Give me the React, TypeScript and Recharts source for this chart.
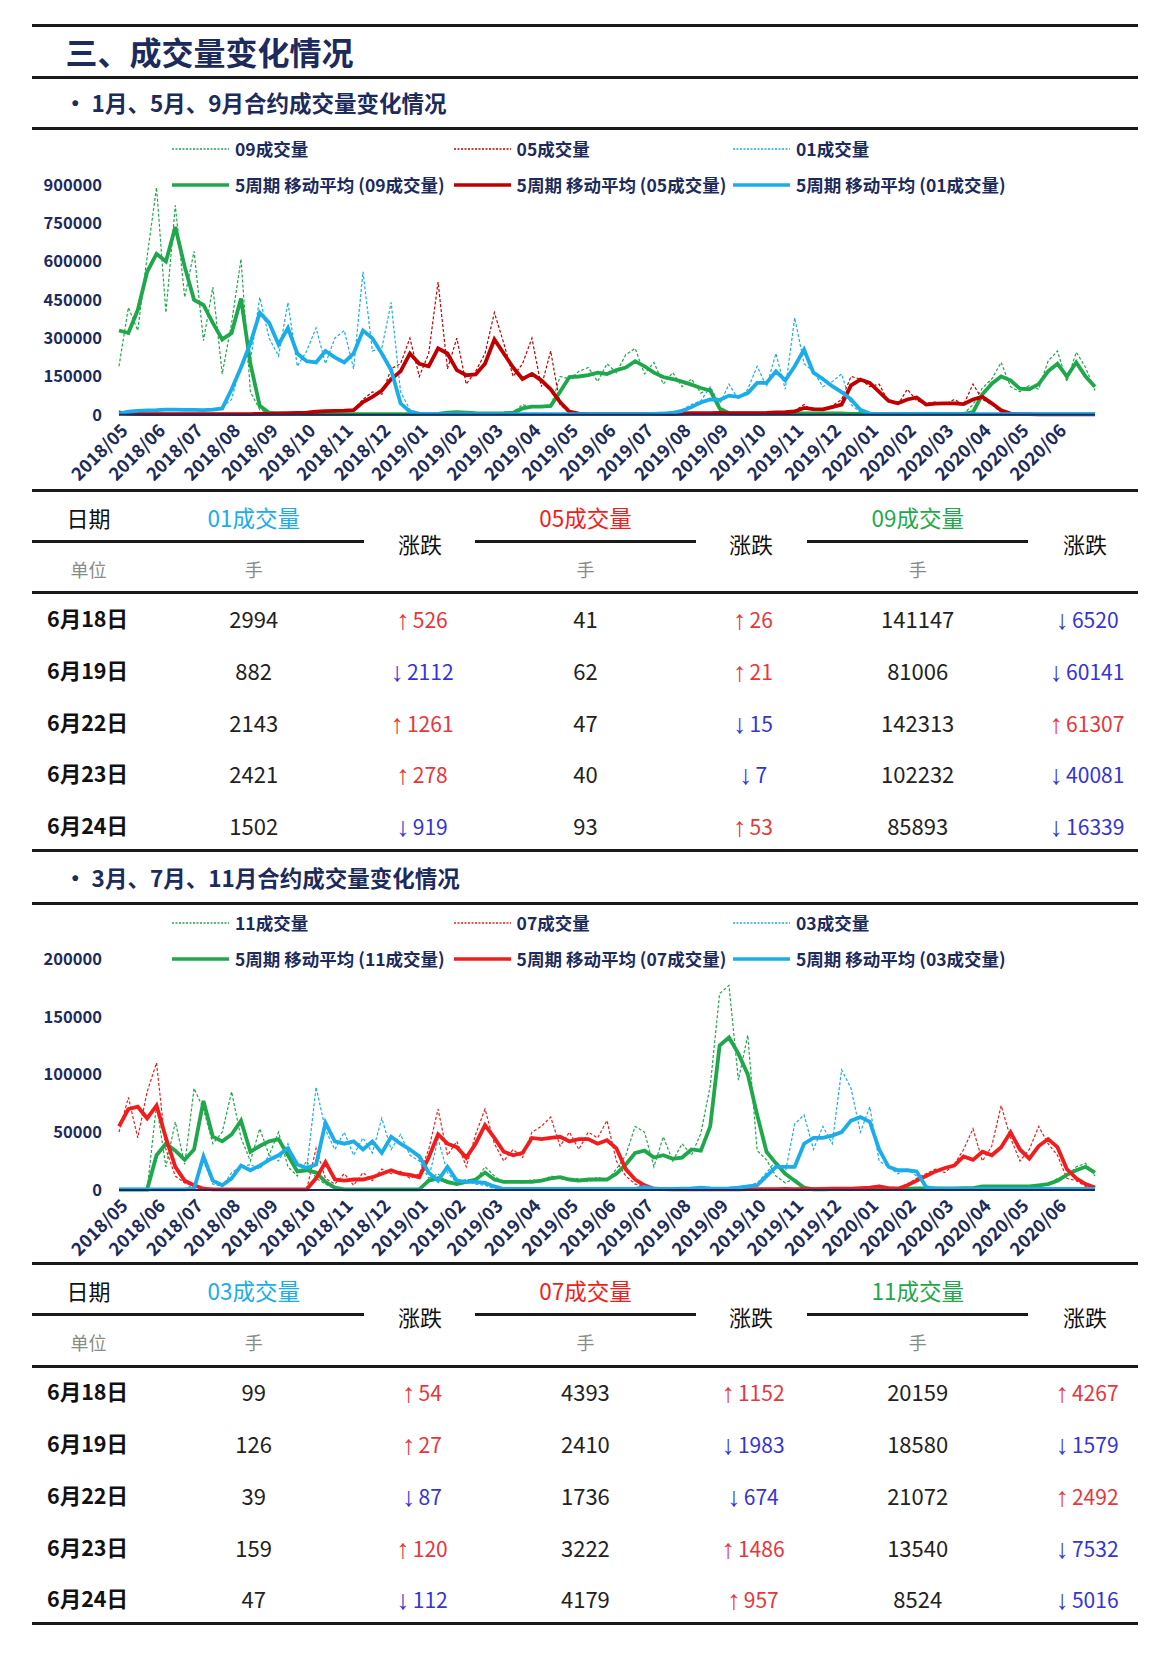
import React from "react";
import { LineChart, Line, XAxis, YAxis } from "recharts";

const NAVY = "#1c2a5c";
const GREEN = "#1fa84b";
const DARKRED = "#c00000";
const RED = "#f31c1c";
const BLUE = "#1aade9";
const UP = "#e8363a";
const DOWN = "#3434d4";
const FONT = "'Noto Sans CJK SC', 'Noto Sans', sans-serif";

// x axis: quarter-month steps, one label every 4 points
const monthLabels = [
  "2018/05", "2018/06", "2018/07", "2018/08", "2018/09", "2018/10", "2018/11", "2018/12",
  "2019/01", "2019/02", "2019/03", "2019/04", "2019/05", "2019/06", "2019/07", "2019/08",
  "2019/09", "2019/10", "2019/11", "2019/12", "2020/01", "2020/02", "2020/03", "2020/04",
  "2020/05", "2020/06",
];
const monthTicks = [0, 4, 8, 12, 16, 20, 24, 28, 32, 36, 40, 44, 48, 52, 56, 60, 64, 68, 72, 76, 80, 84, 88, 92, 96, 100];

// chart 1, values in thousands of lots
const raw09 = [
  190, 420, 330, 620, 890, 400, 820, 460, 640, 290, 500, 160, 360, 610, 90, 20, 5,
  4, 3, 5, 3, 2, 4, 3, 3, 2, 4, 3, 3, 2, 4, 3, 3, 2,
  5, 12, 9, 7, 5, 4, 6, 5, 10, 40, 28, 36, 30,
  150, 140, 170, 185, 130, 200, 165, 235, 260, 160, 205, 120, 165, 110, 140, 85, 105, 15,
  4, 6, 4, 5, 5, 6, 4, 5, 6, 4, 5, 5, 6, 3, 5, 4, 4, 5, 3, 4, 5, 4, 3, 5, 4, 4,
  40, 105, 140, 205, 110, 90, 115, 100, 210, 250, 130, 245, 185, 95,
];
const ma09 = [
  330, 320, 410, 560, 630, 600, 735, 580, 450, 430, 360, 295, 320, 455, 200, 35, 8,
  5, 4, 4, 3, 3, 3, 3, 3, 3, 3, 3, 3, 3, 3, 3, 3, 3,
  4, 8, 10, 8, 6, 5, 5, 6, 8, 25, 32, 32, 35,
  90, 148, 150, 155, 165, 160, 175, 185, 210, 190, 165, 148, 140, 130, 118, 105, 95, 25,
  6, 5, 5, 5, 5, 5, 5, 5, 5, 5, 5, 5, 5, 4, 4, 4, 4, 4, 4, 4, 4, 4, 4, 4, 4, 4,
  10, 80, 122, 150, 135, 102, 100, 120, 170, 200, 150, 205, 150, 110,
];
const raw05 = [
  15, 4, 3, 2, 4, 3, 2, 3, 4, 2, 3, 4, 3, 2, 4, 5, 4, 6, 5, 8, 9,
  15, 10, 18, 14, 22, 60, 90, 80, 180, 200, 300, 150, 240, 520, 180, 300, 120, 170, 240, 400, 280, 150, 200, 300, 110, 250, 40, 8,
  4, 3, 2, 3, 4, 2, 3, 3, 4, 2, 3, 6, 5, 8, 5, 9, 5, 7, 5, 8,
  6, 12, 8, 16, 40, 15, 25, 35, 60, 150, 140, 110, 120, 50, 40, 100, 55, 45, 50, 40, 60, 40, 120, 60, 40, 10, 4,
  2, 3, 2, 2, 3, 2, 2, 2, 3,
];
const ma05 = [
  8, 5, 4, 3, 3, 3, 3, 3, 3, 3, 3, 3, 3, 3, 3, 4, 4, 5, 6, 7, 8,
  12, 14, 15, 16, 18, 50, 70, 95, 140, 170, 240, 200, 190, 260, 240, 175, 155, 158, 200, 295, 240, 185, 140, 160, 135, 100, 50, 12,
  5, 3, 3, 3, 3, 3, 3, 3, 3, 3, 3, 5, 6, 6, 6, 7, 6, 6, 6, 6,
  7, 9, 10, 13, 27, 22, 21, 30, 40, 115, 138, 125, 90, 55, 45, 60, 68, 40, 44, 45, 45, 42, 60, 70, 45, 18, 5,
  3, 3, 2, 2, 2, 2, 2, 2, 2,
];
const raw01 = [
  3, 14, 18, 15, 22, 18, 24, 17, 21, 16, 22, 30,
  60, 200, 210, 460, 300, 230, 440, 190, 250, 340, 200, 300, 330, 180, 560, 250, 260, 440, 90, 20,
  6, 3, 2, 3, 4, 2, 3, 3, 2, 4, 3, 2, 3, 3, 4, 2, 3, 3, 2, 4, 3, 3, 2, 3, 4,
  3, 6, 10, 20, 40, 55, 110, 40, 120, 60, 100, 190, 110, 240, 100, 380, 200, 170, 110, 130, 160, 40, 10, 3,
  3, 2, 4, 3, 2, 3, 3, 2, 4, 3, 2, 3, 3, 4, 2, 3, 3, 2, 3, 4, 3, 2, 3, 3,
];
const ma01 = [
  5, 12, 15, 17, 18, 20, 20, 19, 19, 18, 20, 25,
  100, 185, 280, 400, 360, 275, 340, 240, 210, 205, 250, 225, 205, 240, 330, 300, 240, 175, 45, 12,
  5, 3, 3, 3, 3, 3, 3, 3, 3, 3, 3, 3, 3, 3, 3, 3, 3, 3, 3, 3, 3, 3, 3, 3, 3,
  4, 5, 8, 15, 30, 48, 60, 58, 75, 70, 85, 125, 125, 170, 135, 190, 255, 165, 140, 112, 89, 60, 20, 5,
  3, 3, 3, 3, 3, 3, 3, 3, 3, 3, 3, 3, 3, 3, 3, 3, 3, 3, 3, 3, 3, 3, 3, 3,
];

// chart 2, values in thousands of lots
const raw11 = [
  0.3, 0.3, 0.3, 0.3,
  74, 20, 59, 22, 88, 70, 40, 50, 85, 45, 25, 53, 30, 50, 20, 12, 25, 10, 5, 1,
  0.4, 0.6, 0.3, 0.5, 0.4, 0.6, 0.3, 0.5, 0.4,
  10, 14, 5, 6, 9, 8, 20, 12, 6, 8, 6, 9, 7, 12, 10, 8, 10, 7, 11, 8, 18, 30, 55, 50, 20, 46, 25, 40, 30, 49, 90, 170, 177, 95, 134, 34, 26, 12, 6, 10, 1,
  0.4, 0.6, 0.5, 0.7, 0.6, 0.8, 0.7, 0.9, 1, 0.8, 1.2, 1, 1.3, 1.1, 1.4, 1.2, 1.6,
  1.2, 3.5, 2.5, 3.5, 2.8, 3.2, 2.6, 3.5, 4.5, 10, 12, 20, 23, 12,
];
const ma11 = [
  0.3, 0.3, 0.3, 0.3,
  30, 40, 34, 26, 35, 77, 46, 42, 48, 60, 33, 38, 42, 44, 30, 16, 17, 15, 7, 2,
  0.5, 0.5, 0.5, 0.5, 0.5, 0.5, 0.5, 0.5, 0.5,
  8, 10, 7, 5, 7, 9, 15, 9, 7, 7, 7, 7, 8, 10, 11, 9, 8, 9, 9, 9, 14, 22, 32, 34, 28, 30, 27, 28, 35, 34, 55, 125, 132, 118, 100, 65, 33, 23, 14, 8, 2,
  0.5, 0.5, 0.6, 0.6, 0.7, 0.7, 0.8, 0.8, 1, 1, 1, 1.2, 1.2, 1.3, 1.3, 1.4, 1.5,
  1.5, 3, 3, 3, 3, 3, 3, 4, 5, 8, 13, 17, 20, 15,
];
const raw07 = [
  50, 80, 45, 85, 110, 35, 12, 6, 3, 1,
  0.4, 0.6, 0.3, 0.5, 0.4, 0.6, 0.3, 0.5, 0.4, 0.6, 0.5,
  36, 10, 5, 14, 4, 15, 8, 18, 14, 16, 10, 14, 35, 70, 30, 42, 20, 48, 70, 40, 25, 35, 28, 50, 55, 63, 38, 50, 35, 50, 45, 60, 25, 12, 5, 3, 1, 0.5,
  0.4, 0.6, 0.5, 0.7, 0.4, 0.6, 0.5, 0.7, 0.6, 0.8, 0.5, 0.8, 0.9, 0.6, 1, 0.7, 0.9, 1.2, 0.8, 1.3, 2, 2.5, 4, 1, 1.5,
  5, 10, 14, 18, 15, 22, 35, 53, 25, 38, 73, 45, 25, 35, 55, 40, 30, 10, 8, 3, 1,
];
const ma07 = [
  55, 70, 72, 62, 73, 45, 20, 8, 4, 1,
  0.5, 0.5, 0.5, 0.5, 0.5, 0.5, 0.5, 0.5, 0.5, 0.5, 0.5,
  10, 24, 9, 8, 9, 9, 11, 14, 17, 14, 13, 11, 28, 48, 40, 37, 28, 40, 56, 45, 33, 30, 32, 45, 44, 45, 46, 42, 44, 44, 40, 43, 36, 18, 9, 4, 1, 0.6,
  0.5, 0.5, 0.6, 0.5, 0.6, 0.5, 0.6, 0.5, 0.6, 0.7, 0.6, 0.7, 0.8, 0.7, 0.8, 0.7, 0.8, 1, 1, 1, 1.5, 2, 3, 1.5, 1,
  4, 8, 12, 16, 19, 21, 29, 26, 33, 30, 37, 50, 35, 27, 38, 44, 37, 18, 10, 5, 2,
];
const raw03 = [
  0.3, 0.6, 0.4, 0.5, 0.3, 0.6, 0.4, 0.5, 5,
  25, 5, 3, 15, 20, 22, 18, 30, 25, 40, 15, 18, 89, 52, 35, 50, 30, 45, 32, 62, 35, 48, 30, 25, 10, 44, 15, 6, 8, 5, 4, 1,
  0.5, 1, 0.6, 0.9, 0.7, 1, 0.6, 0.8, 1, 0.7, 0.9, 0.6, 1, 0.8, 1.2,
  3, 1.2, 0.6, 0.9, 1.1, 1.5, 2.5, 1, 1.3, 1, 2.5, 3.5, 6,
  15, 25, 15, 57, 65, 35, 55, 40, 104, 88, 50, 72, 25, 20, 14, 18, 12,
  2, 1, 0.6, 0.9, 0.7, 1, 0.6, 0.8, 0.9, 0.7, 1, 0.6, 0.8, 0.9, 0.7, 1, 0.6, 0.8, 0.7,
];
const ma03 = [
  0.5, 0.5, 0.5, 0.5, 0.5, 0.5, 0.5, 0.5, 1,
  29, 8, 4, 10, 21, 17, 21, 26, 30, 36, 22, 19, 22, 58, 42, 40, 42, 35, 42, 32, 46, 40, 35, 29, 15, 8, 20, 8, 7, 7, 6, 3,
  0.8, 0.8, 0.8, 0.8, 0.8, 0.8, 0.8, 0.8, 0.8, 0.8, 0.8, 0.8, 0.8, 0.8, 0.8,
  2.5, 1, 0.8, 0.8, 1, 1.2, 2, 1.2, 1, 1.2, 2, 3, 4,
  12, 20, 20, 20, 40, 45, 45, 47, 50, 60, 63, 59, 35, 20, 17, 17, 16,
  2.5, 1, 0.8, 0.8, 0.8, 0.8, 0.8, 0.8, 0.8, 0.8, 0.8, 0.8, 0.8, 0.8, 0.8, 0.8, 0.8, 0.8, 0.8,
];

// tables
const dates = ["6月18日", "6月19日", "6月22日", "6月23日", "6月24日"];
const vol01 = [2994, 882, 2143, 2421, 1502];
const chg01 = [526, -2112, 1261, 278, -919];
const vol05 = [41, 62, 47, 40, 93];
const chg05 = [26, 21, -15, -7, 53];
const vol09 = [141147, 81006, 142313, 102232, 85893];
const chg09 = [-6520, -60141, 61307, -40081, -16339];
const vol03 = [99, 126, 39, 159, 47];
const chg03 = [54, 27, -87, 120, -112];
const vol07 = [4393, 2410, 1736, 3222, 4179];
const chg07 = [1152, -1983, -674, 1486, 957];
const vol11 = [20159, 18580, 21072, 13540, 8524];
const chg11 = [4267, -1579, 2492, -7532, -5016];

function buildRows(a: number[], b: number[], c: number[], ma: number[], mb: number[], mc: number[]) {
  return a.map((_, i) => ({
    i,
    ra: a[i] * 1000,
    rb: b[i] * 1000,
    rc: c[i] * 1000,
    ma: ma[i] * 1000,
    mb: mb[i] * 1000,
    mc: mc[i] * 1000,
  }));
}

const rows1 = buildRows(raw09, raw05, raw01, ma09, ma05, ma01);
const rows2 = buildRows(raw11, raw07, raw03, ma11, ma07, ma03);

const MonthTick = (props: any) => {
  const { x, y, payload } = props;
  const px = x + 10;
  const py = y + 15;
  return (
    <text
      x={px}
      y={py}
      transform={`rotate(-45 ${px} ${py})`}
      textAnchor="end"
      fill={NAVY}
      fontSize={18}
      fontWeight={700}
    >
      {monthLabels[Math.round(payload.value / 4)]}
    </text>
  );
};

const Rule = ({ y, x1 = 31.6, x2 = 1138, h = 3 }: any) => (
  <div
    style={{
      position: "absolute",
      left: x1,
      width: x2 - x1,
      top: y - h / 2,
      height: h,
      background: "#1a1a1a",
    }}
  />
);

const Txt = ({ x, y, align = "center", style, children }: any) => (
  <div
    style={{
      position: "absolute",
      left: x,
      top: y,
      transform: align === "center" ? "translate(-50%,-50%)" : "translate(0,-50%)",
      whiteSpace: "nowrap",
      lineHeight: 1,
      ...style,
    }}
  >
    {children}
  </div>
);

function Legend({ top, names, colors }: { top: number; names: string[]; colors: string[] }) {
  const xs = [172, 453.6, 733];
  const textStyle = { color: NAVY, fontSize: 17.5, fontWeight: 700 };
  return (
    <>
      {names.map((n, k) => (
        <React.Fragment key={n}>
          <svg style={{ position: "absolute", left: xs[k], top: top - 3 }} width={57} height={6}>
            <line x1={0} y1={3} x2={57} y2={3} stroke={colors[k]} strokeWidth={1.3} strokeDasharray="2 1.5" />
          </svg>
          <Txt x={xs[k] + 63} y={top} align="left" style={textStyle}>
            {n}成交量
          </Txt>
          <svg style={{ position: "absolute", left: xs[k], top: top + 35.9 - 3 }} width={57} height={6}>
            <line x1={0} y1={3} x2={57} y2={3} stroke={colors[k]} strokeWidth={3.5} />
          </svg>
          <Txt x={xs[k] + 63} y={top + 35.9} align="left" style={textStyle}>
            5周期 移动平均 ({n}成交量)
          </Txt>
        </React.Fragment>
      ))}
    </>
  );
}

function VolumeChart(props: {
  top: number;
  rows: any[];
  colors: string[];
  yMax: number;
  yTicks: number[];
  plotH: number;
}) {
  const { top, rows, colors, yMax, yTicks, plotH } = props;
  const mTop = 55.9;
  const height = 362;
  return (
    <div style={{ position: "absolute", left: 0, top }}>
      <LineChart
        width={1155}
        height={height}
        data={rows}
        margin={{ top: mTop, right: 60, bottom: 0, left: 0 }}
      >
        <XAxis
          dataKey="i"
          type="number"
          domain={[0, 104]}
          ticks={monthTicks}
          interval={0}
          tickSize={0}
          tickLine={false}
          axisLine={{ stroke: NAVY, strokeWidth: 2 }}
          height={height - mTop - plotH}
          tick={<MonthTick />}
        />
        <YAxis
          type="number"
          domain={[0, yMax]}
          ticks={yTicks}
          interval={0}
          width={119}
          tickLine={false}
          tickSize={6}
          tickMargin={11}
          axisLine={false}
          tick={{ fill: NAVY, fontSize: 16.5, fontWeight: 700 }}
        />
        {["ra", "rb", "rc"].map((k, n) => (
          <Line
            key={k}
            dataKey={k}
            type="linear"
            stroke={colors[n]}
            strokeWidth={1.2}
            strokeDasharray="3 2"
            dot={false}
            isAnimationActive={false}
          />
        ))}
        {["ma", "mb", "mc"].map((k, n) => (
          <Line
            key={k}
            dataKey={k}
            type="linear"
            stroke={colors[n]}
            strokeWidth={3.8}
            dot={false}
            isAnimationActive={false}
          />
        ))}
      </LineChart>
    </div>
  );
}

function Change({ x, y, v }: { x: number; y: number; v: number }) {
  const up = v > 0;
  return (
    <Txt x={x} y={y + 1} style={{ color: up ? UP : DOWN, fontSize: 21 }}>
      <span
        style={{
          fontFamily: "'Liberation Sans', sans-serif",
          fontSize: 27,
          lineHeight: 0,
          marginRight: 3,
          verticalAlign: "-1px",
        }}
      >
        {up ? "↑" : "↓"}
      </span>
      {Math.abs(v)}
    </Txt>
  );
}

function DataTable(props: {
  top: number;
  names: string[];
  colors: string[];
  vols: number[][];
  chgs: number[][];
}) {
  const { top, names, colors, vols, chgs } = props;
  const valX = [253.7, 585.4, 917.7];
  const chgX = [422, 753, 1087];
  const headY = top + 26.4;
  const zdY = top + 52.7;
  const unitY = top + 78;
  const rowY = dates.map((_, r) => top + 127.7 + r * 51.7);
  const lines = [
    [31.6, 364],
    [474.7, 696],
    [807, 1028.4],
  ];
  return (
    <>
      <Txt x={88.6} y={headY} style={{ fontSize: 22, color: "#111" }}>日期</Txt>
      {names.map((n, k) => (
        <React.Fragment key={n}>
          <Txt x={valX[k]} y={headY} style={{ fontSize: 22.5, color: colors[k] }}>
            {n}成交量
          </Txt>
          <Txt x={chgX[k] - 2} y={zdY} style={{ fontSize: 22, color: "#111" }}>涨跌</Txt>
          <Rule y={top + 50.5} x1={lines[k][0]} x2={lines[k][1]} h={3} />
          <Txt x={valX[k]} y={unitY} style={{ fontSize: 18, color: "#8a8a8a" }}>手</Txt>
        </React.Fragment>
      ))}
      <Txt x={88.6} y={unitY} style={{ fontSize: 18, color: "#8a8a8a" }}>单位</Txt>
      <Rule y={top + 102.3} />
      {dates.map((d, r) => (
        <React.Fragment key={d}>
          <Txt x={87.5} y={rowY[r]} style={{ fontSize: 21.5, fontWeight: 700, color: "#111" }}>
            {d}
          </Txt>
          {names.map((n, k) => (
            <React.Fragment key={n}>
              <Txt x={valX[k]} y={rowY[r]} style={{ fontSize: 22, color: "#222" }}>
                {vols[k][r]}
              </Txt>
              <Change x={chgX[k]} y={rowY[r]} v={chgs[k][r]} />
            </React.Fragment>
          ))}
        </React.Fragment>
      ))}
      <Rule y={top + 359.7} />
    </>
  );
}

export default function App() {
  return (
    <div
      style={{
        position: "absolute",
        left: 0,
        top: 0,
        width: 1155,
        height: 1654,
        background: "#fff",
        fontFamily: FONT,
        overflow: "hidden",
      }}
    >
      <Rule y={25.3} />
      <Txt x={65.4} y={50.6} align="left" style={{ fontSize: 32, fontWeight: 700, color: NAVY }}>
        三、成交量变化情况
      </Txt>
      <Rule y={77} />

      <Txt x={64} y={102.3} align="left" style={{ fontSize: 22.5, fontWeight: 700, color: NAVY }}>
        • 1月、5月、9月合约成交量变化情况
      </Txt>
      <Rule y={128.7} />
      <VolumeChart
        top={128.7}
        rows={rows1}
        colors={[GREEN, DARKRED, BLUE]}
        yMax={900000}
        yTicks={[0, 150000, 300000, 450000, 600000, 750000, 900000]}
        plotH={229.9}
      />
      <Legend top={148.7} names={["09", "05", "01"]} colors={[GREEN, DARKRED, BLUE]} />
      <Rule y={490.5} />
      <DataTable
        top={490.5}
        names={["01", "05", "09"]}
        colors={[BLUE, RED, GREEN]}
        vols={[vol01, vol05, vol09]}
        chgs={[chg01, chg05, chg09]}
      />

      <Txt x={64} y={876.5} align="left" style={{ fontSize: 22.5, fontWeight: 700, color: NAVY }}>
        • 3月、7月、11月合约成交量变化情况
      </Txt>
      <Rule y={903} />
      <VolumeChart
        top={903}
        rows={rows2}
        colors={[GREEN, RED, BLUE]}
        yMax={200000}
        yTicks={[0, 50000, 100000, 150000, 200000]}
        plotH={231}
      />
      <Legend top={923} names={["11", "07", "03"]} colors={[GREEN, RED, BLUE]} />
      <Rule y={1263.7} />
      <DataTable
        top={1263.7}
        names={["03", "07", "11"]}
        colors={[BLUE, RED, GREEN]}
        vols={[vol03, vol07, vol11]}
        chgs={[chg03, chg07, chg11]}
      />
    </div>
  );
}
